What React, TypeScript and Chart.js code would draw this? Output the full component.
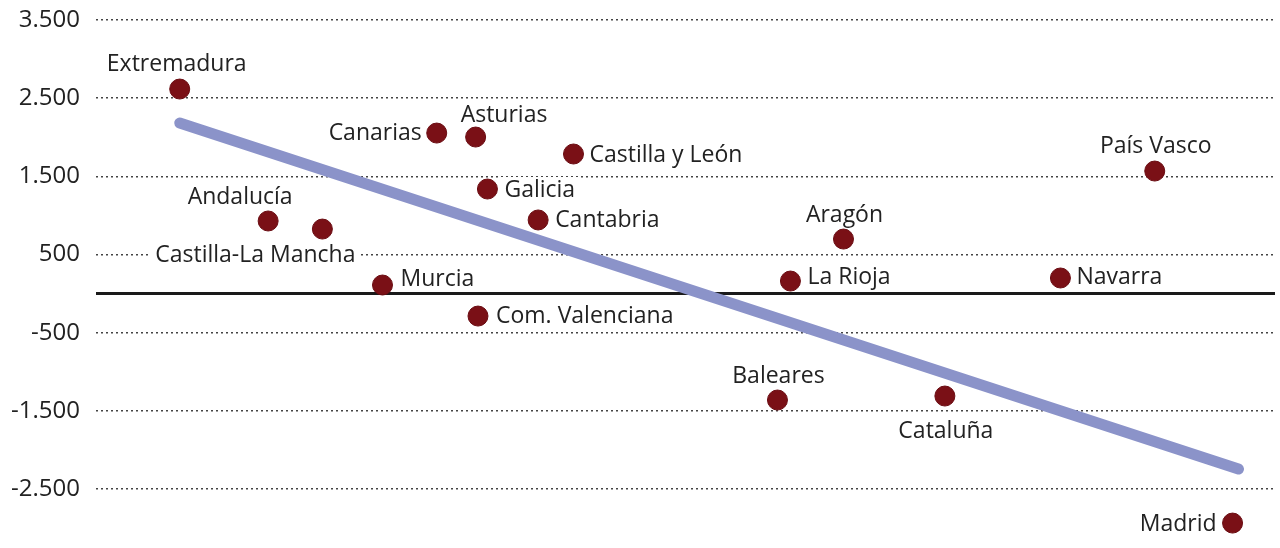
import React, { useEffect, useRef } from "react";
import { Chart, registerables } from "chart.js";

Chart.register(...registerables);

const regions = [
  "Extremadura", "Canarias", "Asturias", "Castilla y León", "País Vasco", "Galicia",
  "Andalucía", "Castilla-La Mancha", "Cantabria", "Aragón", "Murcia", "La Rioja",
  "Navarra", "Com. Valenciana", "Baleares", "Cataluña", "Madrid",
];
const xValues = [7.1, 28.9, 32.2, 40.5, 89.8, 33.2, 14.6, 19.2, 37.5, 63.4, 24.3, 58.9, 81.8, 32.4, 57.8, 72.0, 96.4];
const yValues = [2617, 2054, 2003, 1786, 1568, 1338, 929, 826, 942, 698, 110, 161, 200, -287, -1361, -1310, -2935];
const trendX = [7.1, 96.9];
const trendY = [2182, -2244];
const tickValues = [3500, 2500, 1500, 500, -500, -1500, -2500];

// label placement relative to the point: [dx, dy, align]
const labelPlacement: [number, number, CanvasTextAlign][] = [
  [-3, -25, "center"], [-15, 0, "right"], [-15, -22, "left"], [16, 1, "left"],
  [1, -25, "center"], [17, 1, "left"], [-28, -24, "center"], [-67, 26, "center"],
  [17, 0, "left"], [1, -24, "center"], [18, -6, "left"], [17, -4, "left"],
  [16, -1, "left"], [18, 0, "left"], [1, -24, "center"], [1, 35, "center"],
  [-16, 1, "right"],
];

const FONT = "'Open Sans', 'Noto Sans', sans-serif";

const labelPlugin = {
  id: "pointLabels",
  beforeDatasetsDraw(chart: any) {
    const ctx = chart.ctx;
    const xs = chart.scales.x;
    const ys = chart.scales.y;
    ctx.save();
    ctx.font = `23px ${FONT}`;
    ctx.textBaseline = "middle";
    regions.forEach((name, i) => {
      const [dx, dy, align] = labelPlacement[i];
      const px = xs.getPixelForValue(xValues[i]) + dx;
      const py = ys.getPixelForValue(yValues[i]) + dy;
      const w = ctx.measureText(name).width;
      let left = px;
      if (align === "center") left = px - w / 2;
      else if (align === "right") left = px - w;
      ctx.fillStyle = "#ffffff";
      ctx.fillRect(left - 5, py - 13, w + 10, 26);
      ctx.fillStyle = "#222222";
      ctx.textAlign = align;
      ctx.fillText(name, px, py);
    });
    ctx.restore();
  },
};

export default function App() {
  const ref = useRef<HTMLCanvasElement>(null);
  useEffect(() => {
    document.body.style.margin = "0";
    const xMin = 0;
    const xMax = 100;
    const chart = new Chart(ref.current!, {
      type: "scatter",
      data: {
        datasets: [
          {
            label: "Comunidades",
            data: xValues.map((x, i) => ({ x, y: yValues[i] })),
            backgroundColor: "#7a1016",
            borderColor: "#6a0c12",
            borderWidth: 1,
            pointRadius: 10,
            order: 0,
            clip: false as any,
          },
          {
            type: "line",
            label: "Tendencia",
            data: trendX.map((x, i) => ({ x, y: trendY[i] })),
            borderColor: "#8b93c9",
            borderWidth: 11,
            borderCapStyle: "round",
            pointRadius: 0,
            showLine: true,
            order: 1,
          } as any,
          {
            type: "line",
            label: "Cero",
            data: [{ x: xMin, y: 0 }, { x: xMax, y: 0 }],
            borderColor: "#1a1a1a",
            borderWidth: 3,
            pointRadius: 0,
            showLine: true,
            order: 2,
          } as any,
        ],
      },
      options: {
        animation: false,
        responsive: false,
        maintainAspectRatio: false,
        layout: { autoPadding: false, padding: { left: 0, right: 5, top: 0, bottom: 0 } },
        plugins: { legend: { display: false }, tooltip: { enabled: false } },
        scales: {
          x: {
            type: "linear",
            min: xMin,
            max: xMax,
            display: false,
            afterFit: (scale: any) => {
              scale.paddingLeft = 0;
              scale.paddingRight = 0;
            },
          },
          y: {
            min: -3254,
            max: 3756,
            afterBuildTicks: (scale: any) => {
              scale.ticks = tickValues.map((v) => ({ value: v }));
            },
            afterFit: (scale: any) => {
              scale.width = 96;
              scale.paddingTop = 0;
              scale.paddingBottom = 0;
            },
            border: { display: false, dash: [2, 3] },
            grid: {
              drawTicks: false,
              color: "#444444",
              lineWidth: 1.5,
            },
            ticks: {
              padding: 16,
              color: "#222222",
              font: { family: FONT, size: 24 },
              callback: (v: any) => {
                const n = Number(v);
                const s = Math.abs(n).toString().replace(/\B(?=(\d{3})+(?!\d))/g, ".");
                return (n < 0 ? "-" : "") + s;
              },
            },
          },
        },
      },
      plugins: [labelPlugin],
    });
    return () => chart.destroy();
  }, []);
  return <canvas ref={ref} width={1280} height={548} style={{ display: "block" }} />;
}
